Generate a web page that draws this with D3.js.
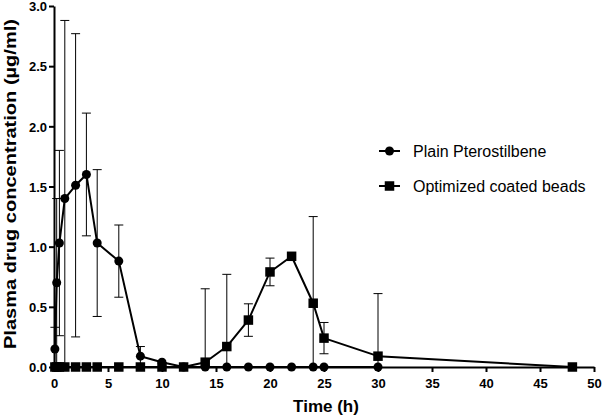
<!DOCTYPE html>
<html>
<head>
<meta charset="utf-8">
<script src="https://cdn.jsdelivr.net/npm/d3@7"></script>
<style>
  html, body { margin: 0; padding: 0; background: #fff; }
  svg { display: block; font-family: "Liberation Sans", Arial, sans-serif; }
</style>
</head>
<body>
<svg id="chart" width="602" height="418"></svg>
<script>
// ---- data ----
const plainTimes = [0.083, 0.25, 0.5, 1, 2, 3, 4, 6, 8, 10, 12, 14, 16, 18, 20, 22, 24, 25, 30];
const plainMeans = [0.15, 0.70, 1.03, 1.40, 1.51, 1.60, 1.03, 0.88, 0.09, 0.04, 0, 0, 0, 0, 0, 0, 0, 0, 0];
const plainSD    = [0.18, 0.70, 0.77, 1.48, 1.26, 0.51, 0.61, 0.30, 0.08, 0, 0, 0, 0, 0, 0, 0, 0, 0, 0];

const coatedTimes = [0.083, 0.25, 0.5, 1, 2, 3, 4, 6, 8, 10, 12, 14, 16, 18, 20, 22, 24, 25, 30, 48];
const coatedMeans = [0, 0, 0, 0, 0, 0, 0, 0, 0, 0, 0, 0.04, 0.17, 0.39, 0.79, 0.92, 0.53, 0.24, 0.09, 0];
const coatedSD    = [0, 0, 0, 0, 0, 0, 0, 0, 0, 0, 0, 0.61, 0.60, 0.135, 0.115, 0, 0.72, 0.13, 0.52, 0];

const seriesNames = ["Plain Pterostilbene", "Optimized coated beads"];
const xTicks = [0, 5, 10, 15, 20, 25, 30, 35, 40, 45, 50];
const yTicks = [0, 0.5, 1.0, 1.5, 2.0, 2.5, 3.0];
const xTitle = "Time (h)";
const yTitle = "Plasma drug concentration (\u00b5g/ml)";

// ---- layout ----
const svg = d3.select("#chart");
const margin = {left: 54, right: 8, top: 6, bottom: 51};
const W = 602, H = 418;
const x = d3.scaleLinear().domain([0, 50]).range([margin.left, W - margin.right]);
const y = d3.scaleLinear().domain([0, 3]).range([H - margin.bottom, margin.top]);

const series = [
  {name: seriesNames[0], t: plainTimes, m: plainMeans, sd: plainSD, shape: "circle"},
  {name: seriesNames[1], t: coatedTimes, m: coatedMeans, sd: coatedSD, shape: "square"}
];

// ---- axes ----
const xAxis = d3.axisBottom(x).tickValues(xTicks).tickFormat(d3.format("d")).tickSize(5).tickSizeOuter(0);
const yAxis = d3.axisLeft(y).tickValues(yTicks).tickFormat(d3.format(".1f")).tickSize(5).tickSizeOuter(0);

const gx = svg.append("g").attr("transform", `translate(0,${y(0)})`).call(xAxis);
const gy = svg.append("g").attr("transform", `translate(${x(0)},0)`).call(yAxis);
[gx, gy].forEach(g => {
  g.select(".domain").attr("stroke", "#000").attr("stroke-width", 2);
  g.selectAll(".tick line").attr("stroke", "#000").attr("stroke-width", 2);
  g.selectAll(".tick text").attr("fill", "#000").attr("font-size", "13px").attr("font-weight", "bold")
    .attr("font-family", "Liberation Sans, Arial, sans-serif");
});
gx.selectAll(".tick text").attr("dy", "0").attr("y", 21);
gy.selectAll(".tick text").attr("x", -7).attr("dy", "0.36em");

svg.append("text")
  .attr("x", (x(0) + x(50)) / 2 + 2).attr("y", 412)
  .attr("text-anchor", "middle").attr("font-size", "17px").attr("font-weight", "bold")
  .text(xTitle);

svg.append("text")
  .attr("transform", `translate(16,${184}) rotate(-90)`)
  .attr("text-anchor", "middle").attr("font-size", "17px").attr("font-weight", "bold")
  .attr("textLength", 330).attr("lengthAdjust", "spacingAndGlyphs")
  .text(yTitle);

// ---- error bars ----
const capW = 4.5;
series.forEach(s => {
  const g = svg.append("g").attr("stroke", "#000").attr("stroke-width", 1).attr("fill", "none");
  s.t.forEach((t, i) => {
    const sd = s.sd[i];
    if (!sd) return;
    const top = s.m[i] + sd;
    const bot = Math.max(0, s.m[i] - sd);
    const cx = x(t);
    g.append("line").attr("x1", cx).attr("x2", cx).attr("y1", y(top)).attr("y2", y(bot));
    g.append("line").attr("x1", cx - capW).attr("x2", cx + capW).attr("y1", y(top)).attr("y2", y(top));
    if (s.m[i] - sd > 0.001) {
      g.append("line").attr("x1", cx - capW).attr("x2", cx + capW).attr("y1", y(bot)).attr("y2", y(bot));
    }
  });
});

// ---- lines and markers ----
const line = d3.line().x(d => x(d[0])).y(d => y(d[1]));
function marker(g, shape, cx, cy) {
  if (shape === "circle") {
    g.append("circle").attr("cx", cx).attr("cy", cy).attr("r", 4.5).attr("fill", "#000");
  } else {
    g.append("rect").attr("x", cx - 4.75).attr("y", cy - 4.75).attr("width", 9.5).attr("height", 9.5).attr("fill", "#000");
  }
}
series.forEach(s => {
  const pts = s.t.map((t, i) => [t, s.m[i]]);
  svg.append("path").datum(pts).attr("d", line)
    .attr("fill", "none").attr("stroke", "#000").attr("stroke-width", 2).attr("stroke-linejoin", "round");
  const g = svg.append("g");
  pts.forEach(p => marker(g, s.shape, x(p[0]), y(p[1])));
});

// ---- legend ----
const legend = svg.append("g");
series.forEach((s, i) => {
  const ly = 151 + i * 35;
  legend.append("line").attr("x1", 379).attr("x2", 400).attr("y1", ly).attr("y2", ly)
    .attr("stroke", "#000").attr("stroke-width", 2);
  marker(legend, s.shape, 389.5, ly);
  legend.append("text").attr("x", 413).attr("y", ly + 5.5)
    .attr("font-size", "16px").attr("font-family", "Liberation Sans, Arial, sans-serif")
    .text(s.name);
});
</script>
</body>
</html>
